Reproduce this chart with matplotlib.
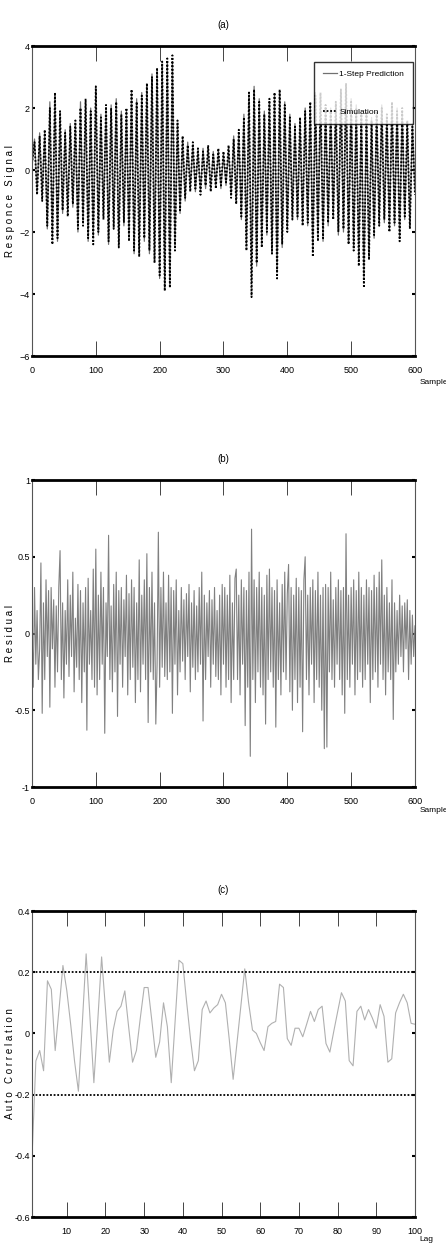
import numpy as np
import matplotlib
matplotlib.use("Agg")
import matplotlib.pyplot as plt

plt.rcParams['font.family'] = ['Liberation Sans Narrow', 'Liberation Sans', 'DejaVu Sans']

# (a) response signal, turning points every 4 samples
sample_a = np.arange(0, 601, 4)
simulation = [0.2, 0.9, -0.8, 1.1, -1.0, 1.3, -1.8, 2.0, -2.4, 2.5,
              -2.2, 1.9, -1.3, 1.2, -1.5, 1.4, -1.1, 1.6, -1.9, 2.0,
              -1.8, 2.3, -2.2, 1.9, -2.4, 2.7, -2.0, 1.7, -1.6, 2.1,
              -2.3, 2.0, -1.9, 2.2, -2.5, 1.8, -1.7, 2.0, -2.3, 2.6,
              -2.6, 2.2, -2.8, 2.4, -2.2, 2.8, -2.6, 3.0, -3.0, 3.3,
              -3.4, 3.5, -3.9, 3.6, -3.8, 3.7, -2.6, 1.6, -1.3, 1.1,
              -0.9, 0.8, -0.7, 0.9, -0.6, 0.7, -0.8, 0.6, -0.5, 0.8,
              -0.7, 0.5, -0.6, 0.7, -0.5, 0.6, -0.4, 0.8, -0.9, 1.0,
              -1.1, 1.3, -1.5, 1.7, -2.6, 2.5, -4.1, 2.6, -3.0, 2.2,
              -2.5, 1.8, -2.0, 2.3, -2.7, 2.5, -3.5, 2.6, -2.4, 2.1,
              -2.0, 1.7, -1.6, 1.4, -1.5, 1.7, -1.8, 1.9, -1.7, 2.2,
              -2.8, 2.4, -2.3, 2.5, -2.2, 2.1, -1.7, 1.9, -1.6, 2.2,
              -2.0, 2.6, -1.9, 2.8, -2.4, 2.2, -2.6, 2.0, -3.1, 1.8,
              -3.8, 1.9, -2.9, 1.6, -2.1, 1.9, -1.8, 2.0, -1.6, 1.8,
              -2.0, 2.2, -1.7, 1.9, -2.3, 2.0, -1.5, 1.6, -1.9, 1.4,
              -0.8]
prediction = [0.1, 1.0, -0.7, 1.2, -0.8, 1.2, -1.9, 2.2, -2.2, 2.4,
              -2.3, 1.7, -1.4, 1.3, -1.3, 1.5, -1.2, 1.5, -2.0, 2.2,
              -1.7, 2.2, -2.3, 2.0, -2.2, 2.6, -2.1, 1.8, -1.5, 2.0,
              -2.4, 2.1, -1.8, 2.3, -2.4, 1.9, -1.8, 1.9, -2.2, 2.5,
              -2.7, 2.3, -2.6, 2.5, -2.3, 2.7, -2.7, 3.1, -2.9, 3.2,
              -3.5, 3.4, -3.8, 3.5, -3.7, 3.5, -2.5, 1.5, -1.4, 1.0,
              -1.0, 0.9, -0.6, 0.8, -0.7, 0.6, -0.7, 0.7, -0.6, 0.7,
              -0.6, 0.6, -0.5, 0.6, -0.6, 0.5, -0.5, 0.7, -0.8, 1.1,
              -1.0, 1.2, -1.6, 1.8, -2.4, 2.3, -3.6, 2.7, -3.1, 2.3,
              -2.4, 1.9, -2.1, 2.2, -2.6, 2.4, -3.3, 2.5, -2.5, 2.2,
              -1.9, 1.8, -1.5, 1.5, -1.6, 1.6, -1.7, 2.0, -1.8, 2.1,
              -2.6, 2.5, -2.2, 2.4, -2.3, 2.0, -1.8, 2.0, -1.5, 2.1,
              -2.1, 2.5, -2.0, 2.6, -2.3, 2.3, -2.5, 2.1, -2.9, 1.9,
              -3.5, 1.8, -2.8, 1.7, -2.2, 1.8, -1.7, 2.1, -1.7, 1.7,
              -1.9, 2.1, -1.8, 2.0, -2.2, 1.9, -1.6, 1.5, -1.8, 1.5,
              -0.7]

# (b) residual, every 2 samples
sample_b = np.arange(0, 601, 2)
residual = [0.05, -0.35, 0.3, -0.2, 0.15, -0.3, -0.1, 0.46, -0.52, 0.2,
            -0.3, 0.35, -0.15, 0.28, -0.48, 0.3, -0.1, 0.22, -0.35, 0.18,
            -0.25, 0.3, 0.54, -0.3, 0.2, -0.42, 0.15, -0.2, 0.35, -0.28,
            0.25, -0.15, 0.4, -0.38, 0.1, -0.22, 0.32, -0.3, 0.28, -0.45,
            0.2, -0.25, 0.3, -0.63, 0.36, -0.2, 0.15, -0.3, 0.42, -0.35,
            0.55, -0.4, 0.25, -0.3, 0.4, -0.2, 0.3, -0.65, 0.2, -0.15,
            0.64, -0.3, 0.18, -0.38, 0.32, -0.25, 0.4, -0.54, 0.28, -0.2,
            0.3, -0.35, 0.22, -0.15, 0.38, -0.4, 0.26, -0.3, 0.35, -0.22,
            0.3, -0.45, 0.2, -0.3, 0.48, -0.38, 0.25, -0.2, 0.35, -0.3,
            0.52, -0.58, 0.3, -0.25, 0.4, -0.3, 0.2, -0.59, -0.2, 0.66,
            -0.35, 0.3, -0.22, 0.4, -0.28, 0.2, -0.3, 0.38, -0.25, 0.3,
            -0.52, 0.28, -0.2, 0.35, -0.4, 0.15, -0.25, 0.3, -0.18, 0.22,
            -0.3, 0.26, -0.15, 0.32, -0.38, 0.2, -0.22, 0.28, -0.3, 0.18,
            -0.25, 0.3, -0.2, 0.4, -0.57, 0.25, -0.3, 0.2, -0.15, 0.28,
            -0.35, 0.22, -0.2, 0.3, -0.28, 0.15, -0.3, 0.25, -0.4, 0.32,
            -0.2, 0.3, -0.35, 0.25, -0.3, 0.38, -0.45, 0.2, -0.3, 0.36,
            0.42, -0.3, 0.25, -0.4, 0.35, -0.2, 0.3, -0.6, 0.28, -0.35,
            0.4, -0.8, 0.68, -0.3, 0.35, -0.45, 0.3, -0.25, 0.4, -0.35,
            0.3, -0.4, 0.25, -0.59, 0.38, -0.3, 0.42, -0.25, 0.3, -0.35,
            0.28, -0.61, 0.35, -0.3, 0.2, -0.4, 0.32, -0.25, 0.4, -0.3,
            0.26, 0.45, -0.38, 0.3, -0.5, 0.25, -0.3, 0.36, -0.45, 0.3,
            -0.35, 0.28, -0.64, 0.35, 0.5, -0.3, 0.25, -0.4, 0.3, -0.2,
            0.35, -0.45, 0.28, -0.3, 0.4, -0.35, 0.25, -0.5, 0.3, -0.75,
            0.32, -0.74, 0.3, -0.25, 0.4, -0.3, 0.22, -0.35, 0.3, -0.2,
            0.35, -0.3, 0.28, -0.4, 0.3, -0.52, 0.65, -0.3, 0.25, -0.35,
            0.3, -0.2, 0.35, -0.4, 0.28, -0.3, 0.4, -0.25, 0.3, -0.35,
            0.25, -0.3, 0.35, -0.2, 0.3, -0.45, 0.28, -0.3, 0.38, -0.25,
            0.3, -0.35, 0.4, -0.2, 0.48, -0.3, 0.25, -0.4, 0.3, -0.25,
            0.2, -0.3, 0.35, -0.56, 0.2, -0.25, 0.15, -0.2, 0.25, -0.15,
            0.18, -0.25, 0.2, -0.1, 0.22, -0.3, 0.15, -0.2, 0.12, -0.15,
            0.05]

# (c) autocorrelation of the residual, lags 1..100
lags = np.arange(1, 101)
acf = [-0.41, -0.09, -0.056, -0.122, 0.172, 0.144, -0.056, 0.08, 0.222, 0.14,
       0.03, -0.09, -0.189, 0.03, 0.26, 0.05, -0.161, 0.04, 0.25, 0.08,
       -0.094, 0.011, 0.072, 0.089, 0.139, 0.02, -0.094, -0.056, 0.05, 0.15,
       0.15, 0.04, -0.078, -0.028, 0.1, 0.022, -0.161, 0.04, 0.239, 0.228,
       0.1, -0.02, -0.122, -0.089, 0.078, 0.106, 0.067, 0.083, 0.094, 0.128,
       0.1, -0.02, -0.15, -0.03, 0.09, 0.211, 0.1, 0.011, 0.0, -0.03,
       -0.056, 0.022, 0.033, 0.039, 0.161, 0.15, -0.017, -0.039, 0.017, 0.017,
       -0.011, 0.03, 0.072, 0.039, 0.078, 0.089, -0.033, -0.061, 0.006, 0.07,
       0.133, 0.106, -0.089, -0.106, 0.072, 0.089, 0.044, 0.078, 0.05, 0.017,
       0.094, 0.056, -0.094, -0.083, 0.067, 0.1, 0.128, 0.1, 0.033, 0.03]
conf_band = 0.2


def style_axes(ax, title, ylabel, xname, xname_y):
    for s in ['top', 'bottom']:
        ax.spines[s].set_linewidth(2.0)
    for s in ['left', 'right']:
        ax.spines[s].set_linewidth(0.8)
        ax.spines[s].set_color('#555555')
    ax.tick_params(axis='x', direction='in', top=True, bottom=True, length=11,
                   width=0.7, color='#444444', labelsize=6.5, pad=7)
    ax.tick_params(axis='y', direction='in', left=True, right=True, length=2.5,
                   width=1.5, color='black', labelsize=6.5, pad=1.5)
    ax.set_title(title, fontsize=7, pad=13)
    ax.set_ylabel(ylabel, fontsize=7)
    ax.yaxis.set_label_coords(-0.044, 0.5)
    ax.text(1.012, xname_y, xname, transform=ax.transAxes, fontsize=6,
            ha='left', va='center', clip_on=False)


fig = plt.figure(figsize=(4.46, 12.54), dpi=100)
ax1 = fig.add_axes([0.0717, 0.7161, 0.8587, 0.2472])
ax2 = fig.add_axes([0.0717, 0.3724, 0.8587, 0.2448])
ax3 = fig.add_axes([0.0717, 0.0295, 0.8587, 0.2440])

ax1.plot(sample_a, prediction, color='#707070', lw=0.9, label='1-Step Prediction')
ax1.plot(sample_a, simulation, color='black', lw=1.3, ls=(0, (1, 1)), label='Simulation')
ax1.set_xlim(0, 600)
ax1.set_ylim(-6, 4)
ax1.set_xticks(range(0, 601, 100))
ax1.set_yticks([-6, -4, -2, 0, 2, 4])
style_axes(ax1, '(a)', 'R e s p o n c e   S i g n a l', 'Sample', -0.087)
leg = ax1.legend(loc='upper right', bbox_to_anchor=(0.994, 0.95), fontsize=6,
                 frameon=True, fancybox=False, handlelength=1.7,
                 borderpad=1.0, labelspacing=3.6, handletextpad=0.3,
                 borderaxespad=0)
leg.get_frame().set_edgecolor('black')
leg.get_frame().set_linewidth(1.0)

ax2.plot(sample_b, residual, color='#808080', lw=0.8)
ax2.set_xlim(0, 600)
ax2.set_ylim(-1, 1)
ax2.set_xticks(range(0, 601, 100))
ax2.set_yticks([-1, -0.5, 0, 0.5, 1])
ax2.set_yticklabels(['-1', '-0.5', '0', '0.5', '1'])
style_axes(ax2, '(b)', 'R e s i d u a l', 'Sample', -0.075)

ax3.plot(lags, acf, color='#b0b0b0', lw=0.8)
ax3.axhline(conf_band, color='black', lw=1.3, ls=(0, (1, 1)))
ax3.axhline(-conf_band, color='black', lw=1.3, ls=(0, (1, 1)))
ax3.set_xlim(1, 100)
ax3.set_ylim(-0.6, 0.4)
ax3.set_xticks(range(10, 101, 10))
ax3.set_yticks([-0.6, -0.4, -0.2, 0, 0.2, 0.4])
ax3.set_yticklabels(['-0.6', '-0.4', '-0.2', '0', '0.2', '0.4'])
style_axes(ax3, '(c)', 'A u t o   C o r r e l a t i o n', 'Lag', -0.075)

fig.savefig('out.png', dpi=100)
